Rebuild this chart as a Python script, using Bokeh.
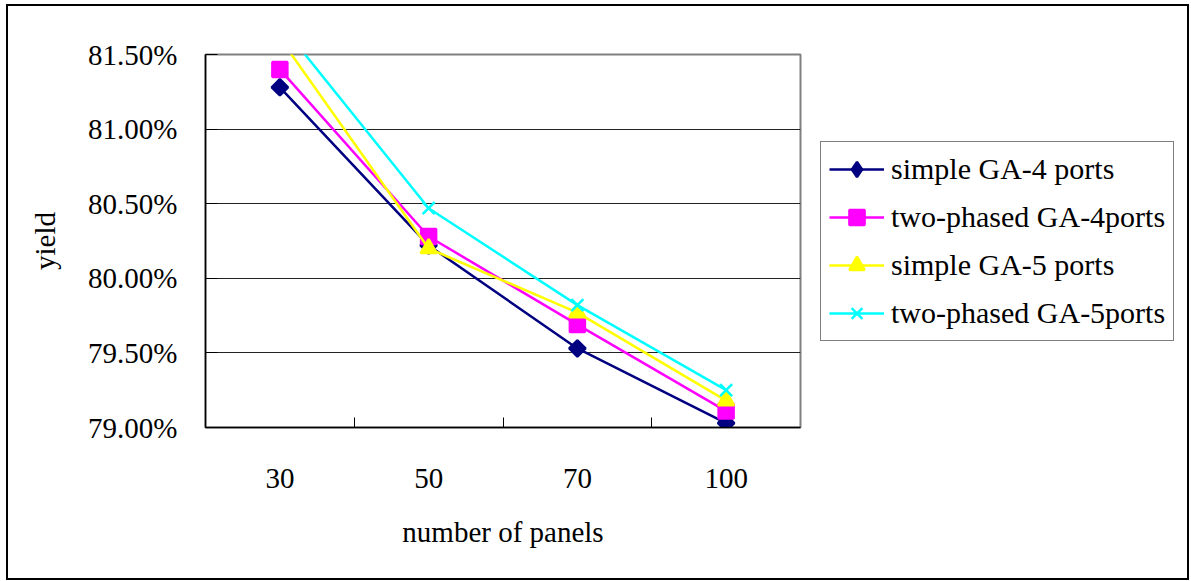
from bokeh.plotting import figure
from bokeh.models import (Range1d, FixedTicker, PrintfTickFormatter, Legend, LegendItem,
                          InlineStyleSheet, ColumnDataSource)
from bokeh.embed import file_html
from bokeh.resources import INLINE
import math

categories = ["30", "50", "70", "100"]
simple_ga4 = [81.28, 80.22, 79.53, 79.03]
two_phased_ga4 = [81.40, 80.28, 79.69, 79.11]
simple_ga5 = [81.61, 80.20, 79.77, 79.18]
two_phased_ga5 = [81.71, 80.47, 79.82, 79.25]
y_ticks = [79.0, 79.5, 80.0, 80.5, 81.0, 81.5]
series_names = ["simple GA-4 ports", "two-phased GA-4ports", "simple GA-5 ports", "two-phased GA-5ports"]

FONT = "Liberation Serif"
xs = list(range(len(categories)))

border_css = InlineStyleSheet(css="""
:host { position: relative; }
:host::after {
  content: ''; position: absolute; left: 6px; top: 4px; width: 1183px; height: 576px;
  border: 2px solid black; box-sizing: border-box; pointer-events: none; z-index: 10;
}
""")

p = figure(frame_width=595, frame_height=373, output_backend="svg", toolbar_location=None,
           x_range=Range1d(-0.5, len(categories) - 0.5), y_range=Range1d(y_ticks[0], y_ticks[-1]),
           min_border_left=205, min_border_right=380, min_border_top=54, min_border_bottom=154,
           background_fill_color="white", border_fill_color="white",
           stylesheets=[border_css])
p.outline_line_color = "#808080"
p.outline_line_width = 2

# axes
p.xaxis.ticker = FixedTicker(ticks=xs, minor_ticks=[i + 0.5 for i in xs[:-1]])
p.xaxis.major_label_overrides = {i: c for i, c in enumerate(categories)}
p.xaxis.major_tick_line_color = None
p.xaxis.minor_tick_in = 10
p.xaxis.minor_tick_out = 0
p.xaxis.minor_tick_line_color = "black"
p.xaxis.axis_line_color = "black"
p.xaxis.axis_line_width = 1.5
p.xaxis.major_label_standoff = 35
p.xaxis.axis_label = "number of panels"
p.xaxis.axis_label_standoff = 25

p.yaxis.ticker = FixedTicker(ticks=y_ticks)
p.yaxis.formatter = PrintfTickFormatter(format="%.2f%%")
p.yaxis.major_tick_in = 12
p.yaxis.major_tick_out = 0
p.yaxis.minor_tick_line_color = None
p.yaxis.axis_line_color = "black"
p.yaxis.axis_line_width = 1.5
p.yaxis.major_label_standoff = 28
p.yaxis.axis_label = "yield"
p.yaxis.axis_label_standoff = 24

for ax in (p.xaxis, p.yaxis):
    ax.major_label_text_font = FONT
    ax.major_label_text_font_size = "29px"
    ax.major_label_text_color = "black"
    ax.axis_label_text_font = FONT
    ax.axis_label_text_font_size = "29px"
    ax.axis_label_text_font_style = "normal"
    ax.axis_label_text_color = "black"

p.xgrid.grid_line_color = None
p.ygrid.grid_line_color = "#222222"
p.ygrid.grid_line_width = 1

series = [simple_ga4, two_phased_ga4, simple_ga5, two_phased_ga5]
colors = ["#000080", "#FF00FF", "#FFFF00", "#00FFFF"]
markers = ["square", "square", "triangle", "x"]
sizes = [11.5, 15, 16, 17]
angles = [math.pi / 4, 0, 0, 0]
legend_markers = ["diamond", "square", "triangle", "x"]
legend_sizes = [20, 15, 16, 17]

items = []
for name, ys, c, m, s, a, lm, ls in zip(series_names, series, colors, markers, sizes, angles,
                                        legend_markers, legend_sizes):
    src = ColumnDataSource(dict(x=xs, y=ys, ang=[a] * len(xs)))
    ln = p.line("x", "y", source=src, line_color=c, line_width=2.5)
    p.scatter("x", "y", source=src, marker=m, size=s, angle="ang",
              fill_color=c, line_color=c, line_width=2.5)
    key = p.scatter("x", "y", source=src, marker=lm, size=ls,
                    fill_color=c, line_color=c, line_width=2.5, visible=False)
    items.append(LegendItem(label=name, renderers=[ln, key], index=0))

legend = Legend(items=items, location="center_left")
legend.label_text_font = FONT
legend.label_text_font_size = "30px"
legend.label_text_color = "black"
legend.border_line_color = "black"
legend.border_line_width = 1
legend.background_fill_color = "white"
legend.background_fill_alpha = 1
legend.inactive_fill_alpha = 0
legend.glyph_width = 55
legend.glyph_height = 38
legend.label_height = 38
legend.label_standoff = 7
legend.spacing = 10
legend.padding = 8
legend.margin = 20
p.add_layout(legend, "right")

open("out.html", "w").write(file_html(p, INLINE))
